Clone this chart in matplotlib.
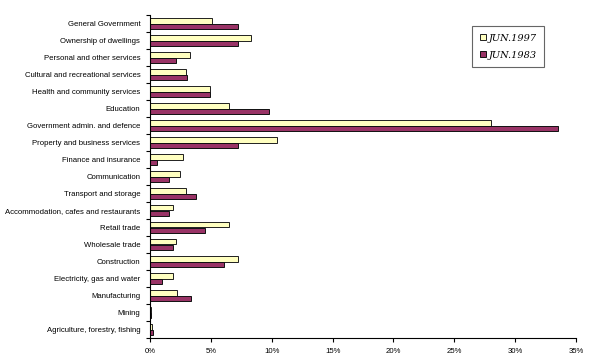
import numpy as np
import matplotlib.pyplot as plt
from matplotlib.ticker import FixedLocator, PercentFormatter

industries = ["General Government", "Ownership of dwellings", "Personal and other services",
              "Cultural and recreational services", "Health and community services", "Education",
              "Government admin. and defence", "Property and business services",
              "Finance and insurance", "Communication", "Transport and storage",
              "Accommodation, cafes and restaurants", "Retail trade", "Wholesale trade",
              "Construction", "Electricity, gas and water", "Manufacturing", "Mining",
              "Agriculture, forestry, fishing"]
jun1997 = [5.1, 8.3, 3.3, 2.95, 4.95, 6.45, 28.0, 10.45, 2.75, 2.45, 2.95,
           1.85, 6.45, 2.1, 7.2, 1.85, 2.25, 0.1, 0.15]
jun1983 = [7.2, 7.2, 2.1, 3.0, 4.95, 9.75, 33.5, 7.2, 0.6, 1.6, 3.8,
           1.55, 4.55, 1.9, 6.05, 0.95, 3.35, 0.1, 0.25]

plt.rcParams['font.family'] = ['Liberation Sans', 'DejaVu Sans']

fig = plt.figure(figsize=(5.9, 3.62), dpi=100)
ax = fig.add_axes([150/590, 1 - 338/362, 426/590, 323/362])

y = np.arange(len(industries))[::-1]
h = 0.31
ax.barh(y + h/2, jun1997, height=h, color="#ffffc0", edgecolor="#202020",
        linewidth=0.7, label="JUN.1997")
ax.barh(y - h/2, jun1983, height=h, color="#993366", edgecolor="#101010",
        linewidth=0.7, label="JUN.1983")

ax.set_xlim(0, 35)
ax.set_ylim(-0.5, len(industries) - 0.5)
ax.set_xticks(range(0, 36, 5))
ax.xaxis.set_major_formatter(PercentFormatter(decimals=0))
ax.set_yticks(y)
ax.set_yticklabels(industries)
ax.yaxis.set_minor_locator(FixedLocator(np.arange(-0.5, len(industries), 1)))
ax.tick_params(axis="y", which="major", length=0, pad=7, labelsize=5.6)
ax.tick_params(axis="y", which="minor", length=3, width=0.8)
ax.tick_params(axis="x", length=3, width=0.8, labelsize=5.6, pad=4)

for s in ["top", "right"]:
    ax.spines[s].set_visible(False)
ax.spines["left"].set_linewidth(0.8)
ax.spines["bottom"].set_linewidth(0.8)

leg = ax.legend(loc="upper left", bbox_to_anchor=(472/590, 1 - 26/362),
                bbox_transform=fig.transFigure, fancybox=False, edgecolor="#404040",
                prop={"family": "serif", "style": "italic", "size": 7},
                handlelength=0.6, handleheight=0.6, labelspacing=0.8,
                borderpad=0.8, handletextpad=0.3, borderaxespad=0)
leg.get_frame().set_linewidth(0.8)

fig.savefig("out.png", dpi=100)
